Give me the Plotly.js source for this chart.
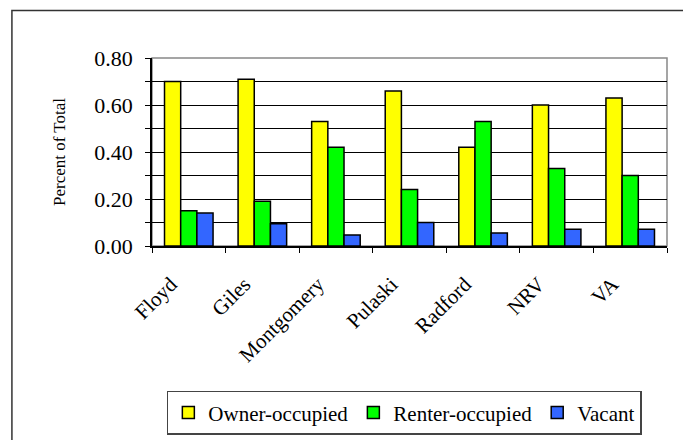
<!DOCTYPE html>
<html>
<head>
<meta charset="utf-8">
<script src="https://cdn.plot.ly/plotly-3.0.1.min.js"></script>
<style>body{margin:0;background:#fff;}</style>
</head>
<body>
<div id="chart" style="width:683px;height:440px;"></div>
<script>
// categories and values
var places = ["Floyd", "Giles", "Montgomery", "Pulaski", "Radford", "NRV", "VA"];
var owner = [0.70, 0.71, 0.53, 0.66, 0.42, 0.60, 0.63];
var renter = [0.15, 0.19, 0.42, 0.24, 0.53, 0.33, 0.30];
var vacant = [0.14, 0.095, 0.047, 0.10, 0.055, 0.071, 0.071];

var yTicks = [0, 0.1, 0.2, 0.3, 0.4, 0.5, 0.6, 0.7, 0.8];
var yLabels = ["0.00", "", "0.20", "", "0.40", "", "0.60", "", "0.80"];

var serif = "Liberation Serif";
var outline = {color: "black", width: 1.5};

var data = [
  {x: places, y: owner, name: "Owner-occupied", type: "bar",
   marker: {color: "#ffff00", line: outline}},
  {x: places, y: renter, name: "Renter-occupied", type: "bar",
   marker: {color: "#00ff00", line: outline}},
  {x: places, y: vacant, name: "Vacant", type: "bar",
   marker: {color: "#3366ff", line: outline}}
];

var layout = {
  width: 683, height: 440,
  margin: {l: 152, r: 16, t: 58, b: 194, autoexpand: false},
  paper_bgcolor: "white", plot_bgcolor: "white",
  font: {family: serif, color: "black", size: 22},
  barmode: "group",
  bargap: 0.34,
  bargroupgap: 0,
  showlegend: true,
  legend: {
    orientation: "h", x: 0.49, xanchor: "center", y: -0.77, yanchor: "top",
    bordercolor: "#444", borderwidth: 1.5, font: {family: serif, size: 21},
    itemwidth: 30, tracegroupgap: 0
  },
  xaxis: {
    type: "category", tickangle: -45, tickson: "boundaries",
    ticks: "outside", ticklen: 5, tickcolor: "black",
    tickfont: {family: serif, size: 21}, ticklabelstandoff: 16, ticklabelshift: -18,
    showline: true, linecolor: "black", linewidth: 1.5,
    showgrid: false, automargin: false
  },
  yaxis: {
    range: [0, 0.8], tickvals: yTicks, ticktext: yLabels,
    ticks: "outside", ticklen: 5, tickcolor: "black",
    tickfont: {family: serif, size: 22}, ticklabelstandoff: 8,
    showline: true, linecolor: "black", linewidth: 1.5,
    showgrid: true, gridcolor: "black", gridwidth: 1,
    zeroline: false, automargin: false,
    title: {text: "Percent of Total", font: {family: serif, size: 17}, standoff: 24}
  },
  shapes: [
    // gray plot area frame
    {type: "rect", xref: "paper", yref: "paper", x0: 0, x1: 1, y0: 0, y1: 1,
     line: {color: "#888", width: 1.5}, layer: "below"},
    // outer chart frame (only its left and top edges fall inside the picture)
    {type: "rect", xref: "paper", yref: "paper", x0: -0.272, x1: 1.2, y0: -1.2, y1: 1.253,
     line: {color: "#333", width: 1.5}}
  ]
};

Plotly.newPlot("chart", data, layout, {displayModeBar: false});
</script>
</body>
</html>
